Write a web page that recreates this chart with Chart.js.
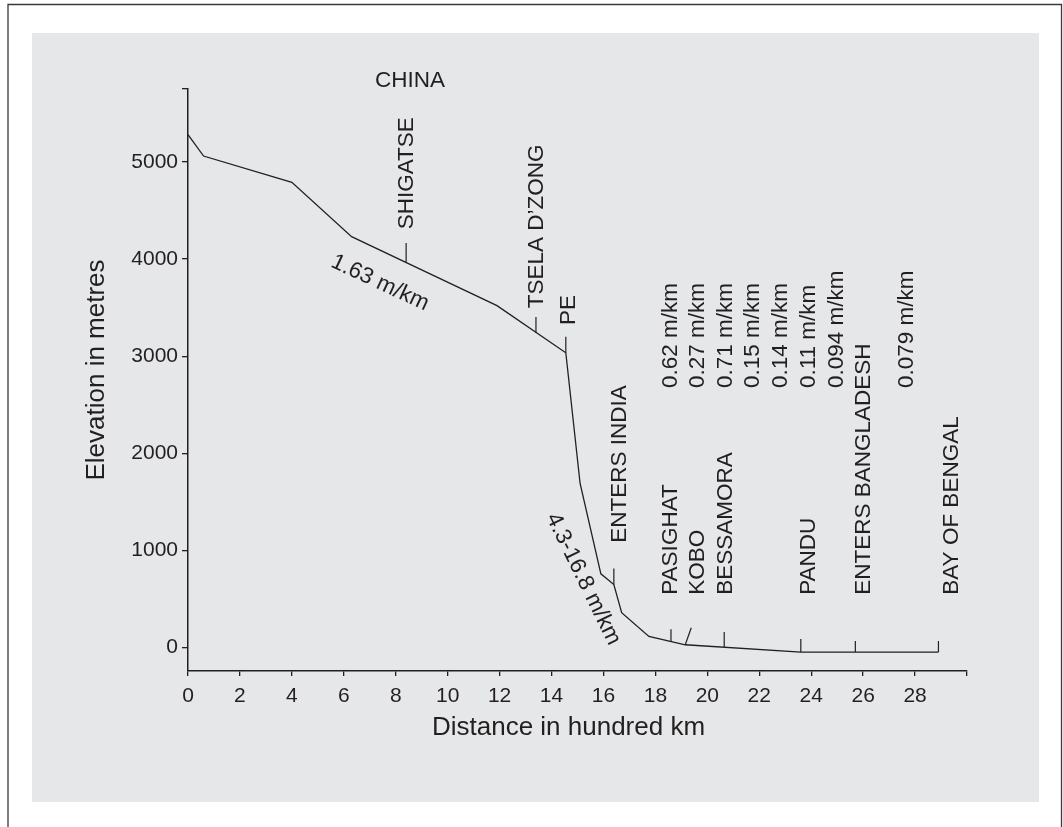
<!DOCTYPE html>
<html>
<head>
<meta charset="utf-8">
<title>Longitudinal profile of the Brahmaputra</title>
<script src="https://cdn.jsdelivr.net/npm/chart.js@4/dist/chart.umd.min.js"></script>
<style>
  html, body { margin: 0; padding: 0; background: #ffffff; }
  #wrap { width: 1063px; height: 827px; }
</style>
</head>
<body>
<div id="wrap"><canvas id="profile" width="1063" height="827"></canvas></div>
<script>
// River profile: distance from source (hundred km) and bed elevation (m)
const distance  = [0, 0.6, 4.0, 6.3, 11.9, 14.55, 15.1, 15.9, 16.4, 16.7, 17.75, 19.15, 23.6, 28.9];
const elevation = [5280, 5060, 4790, 4230, 3520, 3035, 1690, 760, 650, 360, 115, 30, -45, -45];

// Places along the river
const placeNames     = ['SHIGATSE', 'TSELA D\u2019ZONG', 'PE', 'ENTERS INDIA', 'PASIGHAT', 'KOBO', 'BESSAMORA', 'PANDU', 'ENTERS BANGLADESH', 'BAY OF BENGAL'];
const placeDistance  = [8.4, 13.4, 14.55, 16.4, 18.6, 19.15, 20.65, 23.6, 25.7, 28.9];
const placeElevation = [3970, 3240, 3035, 650, 65, 30, 7, -45, -45, -45];

// Channel gradients of the lower reaches
const gradientLabels = ['0.62 m/km', '0.27 m/km', '0.71 m/km', '0.15 m/km', '0.14 m/km', '0.11 m/km', '0.094 m/km', '0.079 m/km'];

// Axis ticks
const xTickValues = [0, 2, 4, 6, 8, 10, 12, 14, 16, 18, 20, 22, 24, 26, 28, 30];
const yTickValues = [0, 1000, 2000, 3000, 4000, 5000, 5750];

const INK = '#231f20';
const FONT = '"Liberation Sans", Arial, Helvetica, sans-serif';

// Page frame and grey panel behind the chart
const backdrop = {
  id: 'backdrop',
  beforeDraw(chart) {
    const ctx = chart.ctx;
    ctx.save();
    ctx.fillStyle = '#ffffff';
    ctx.fillRect(0, 0, chart.width, chart.height);
    ctx.fillStyle = '#e6e7e8';
    ctx.fillRect(32, 33, 1007, 769);
    ctx.strokeStyle = '#3a3a3a';
    ctx.lineWidth = 1.3;
    ctx.beginPath();
    ctx.moveTo(8, 827);
    ctx.lineTo(8, 4.5);
    ctx.lineTo(1061.5, 4.5);
    ctx.lineTo(1061.5, 827);
    ctx.stroke();
    ctx.restore();
  }
};

// Place markers, place names, gradient notes and axis titles
const notes = {
  id: 'notes',
  afterDatasetsDraw(chart, args, opts) {
    const ctx = chart.ctx;
    const xs = chart.scales.x, ys = chart.scales.y;
    const px = v => xs.getPixelForValue(v);
    const py = v => ys.getPixelForValue(v);
    ctx.save();
    ctx.strokeStyle = INK;
    ctx.fillStyle = INK;
    ctx.lineWidth = 1.2;

    // short upright ticks where each place sits on the profile
    placeDistance.forEach((d, i) => {
      const x0 = px(d), y0 = py(placeElevation[i]);
      ctx.beginPath();
      ctx.moveTo(x0, y0);
      ctx.lineTo(x0 + opts.markerLean[i], y0 - opts.markerLength[i]);
      ctx.stroke();
    });

    const upright = (text, pos, size) => {
      ctx.save();
      ctx.font = size + 'px ' + FONT;
      ctx.translate(px(pos[0]), py(pos[1]));
      ctx.rotate(-Math.PI / 2);
      ctx.textAlign = 'left';
      ctx.textBaseline = 'middle';
      ctx.fillText(text, 0, 0);
      ctx.restore();
    };
    const angled = (text, pos, deg, size) => {
      ctx.save();
      ctx.font = size + 'px ' + FONT;
      ctx.translate(px(pos[0]), py(pos[1]));
      ctx.rotate(deg * Math.PI / 180);
      ctx.textAlign = 'center';
      ctx.textBaseline = 'middle';
      ctx.fillText(text, 0, 0);
      ctx.restore();
    };

    placeNames.forEach((n, i) => upright(n, opts.placeAnchors[i], 22.5));
    gradientLabels.forEach((g, i) => upright(g, [opts.gradientX[i], opts.gradientBase], 22.5));
    angled('1.63 m/km', opts.upperSlope, 25, 22.5);
    angled('4.3-16.8 m/km', opts.gorgeSlope, 64, 22.5);
    angled('CHINA', opts.country, 0, 22.5);

    // axis titles
    ctx.font = '26px ' + FONT;
    ctx.textAlign = 'center';
    ctx.textBaseline = 'middle';
    ctx.fillText('Distance in hundred km', (xs.left + xs.right) / 2 - 9, 728);
    ctx.save();
    ctx.translate(97, 370);
    ctx.rotate(-Math.PI / 2);
    ctx.fillText('Elevation in metres', 0, 0);
    ctx.restore();

    ctx.restore();
  }
};

new Chart(document.getElementById('profile'), {
  type: 'line',
  data: {
    datasets: [{
      data: distance.map((d, i) => ({ x: d, y: elevation[i] })),
      borderColor: INK,
      borderWidth: 1.3,
      pointRadius: 0,
      tension: 0,
      fill: false
    }]
  },
  options: {
    responsive: false,
    animation: false,
    layout: { padding: { left: 0, right: 96, top: 89, bottom: 0 } },
    plugins: {
      legend: { display: false },
      tooltip: { enabled: false },
      notes: {
        markerLength: [19, 16, 16, 16, 12, 17, 15, 13, 11, 11],
        markerLean:   [0, 0, 0, 0, 0, 6, 0, 0, 0, 0],
        placeAnchors: [[8.43, 4306], [13.44, 3494], [14.67, 3320], [16.63, 1079],
                       [18.59, 545], [19.65, 545], [20.70, 545], [23.89, 545], [26.04, 545], [29.41, 545]],
        gradientX: [18.59, 19.65, 20.70, 21.77, 22.83, 23.89, 24.98, 27.67],
        gradientBase: 2672,
        upperSlope: [7.39, 3754],
        gorgeSlope: [15.22, 706],
        country: [8.55, 5838]
      }
    },
    scales: {
      x: {
        type: 'linear',
        min: 0,
        max: 30,
        afterBuildTicks: s => { s.ticks = xTickValues.map(v => ({ value: v })); },
        afterFit: s => { s.height = 156; },
        border: { display: true, color: INK, width: 1.5 },
        grid: { drawOnChartArea: false, drawTicks: true, tickLength: 5, color: INK, lineWidth: 1.3 },
        ticks: {
          color: INK,
          font: { family: FONT, size: 21 },
          padding: 8,
          maxRotation: 0,
          autoSkip: false,
          callback: v => (v === 30 ? '' : String(v))
        }
      },
      y: {
        type: 'linear',
        min: -240,
        max: 5750,
        afterBuildTicks: s => { s.ticks = yTickValues.map(v => ({ value: v })); },
        afterFit: s => { s.width = 188; },
        border: { display: true, color: INK, width: 1.5 },
        grid: { drawOnChartArea: false, drawTicks: true, tickLength: 6, color: INK, lineWidth: 1.3 },
        ticks: {
          color: INK,
          font: { family: FONT, size: 21 },
          padding: 4,
          autoSkip: false,
          callback: v => (v === 5750 ? '' : String(v))
        }
      }
    }
  },
  plugins: [backdrop, notes]
});
</script>
</body>
</html>
